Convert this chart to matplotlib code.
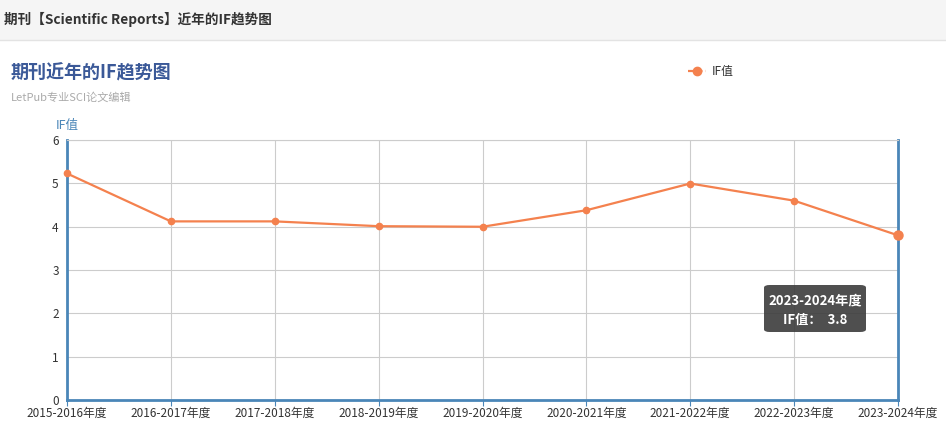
import matplotlib.pyplot as plt
from matplotlib.patches import FancyBboxPatch, Rectangle
from matplotlib.lines import Line2D

plt.rcParams['font.family'] = ['Noto Sans CJK SC', 'DejaVu Sans']

# data
years = ["2015-2016年度", "2016-2017年度", "2017-2018年度", "2018-2019年度",
         "2019-2020年度", "2020-2021年度", "2021-2022年度", "2022-2023年度",
         "2023-2024年度"]
if_values = [5.228, 4.122, 4.122, 4.011, 3.998, 4.379, 4.996, 4.6, 3.8]
y_ticks = [0, 1, 2, 3, 4, 5, 6]

line_color = "#f4814e"
axis_blue = "#4a86b8"

fig = plt.figure(figsize=(9.46, 4.46), dpi=100)

# header band
fig.patches.append(Rectangle((0, 1 - 40 / 446), 1, 40 / 446, transform=fig.transFigure,
                             facecolor="#f5f5f5", edgecolor="none", zorder=0))
fig.add_artist(Line2D([0, 1], [1 - 40 / 446] * 2, color="#e3e3e3", lw=1))
fig.text(4 / 946, 1 - 19 / 446, "期刊【Scientific Reports】近年的IF趋势图",
         fontsize=9.8, fontweight="bold", color="#333333", va="center")

# titles
fig.text(11 / 946, 1 - 73 / 446, "期刊近年的IF趋势图", fontsize=13,
         fontweight="bold", color="#3b5998", va="center")
fig.text(11 / 946, 1 - 97 / 446, "LetPub专业SCI论文编辑", fontsize=8,
         color="#aaaaaa", va="center")

ax = fig.add_axes([67 / 946, 1 - 400 / 446, (898 - 67) / 946, 260 / 446])
x = list(range(len(years)))
ax.plot(x, if_values, color=line_color, lw=1.6, marker="o", markersize=4.5,
        clip_on=False, zorder=3)
ax.plot(x[-1], if_values[-1], "o", color=line_color, markersize=6.5,
        clip_on=False, zorder=4)

ax.set_xlim(0, len(years) - 1)
ax.set_ylim(0, 6)
ax.set_xticks(x)
ax.set_xticklabels(years, fontsize=8.5, color="#333333")
ax.set_yticks(y_ticks)
ax.set_yticklabels([str(v) for v in y_ticks], fontsize=8.5, color="#333333")
ax.grid(True, color="#cccccc", lw=0.8)
ax.set_axisbelow(True)

for side in ["left", "right", "bottom"]:
    ax.spines[side].set_color(axis_blue)
    ax.spines[side].set_linewidth(2)
ax.spines["top"].set_color("#cccccc")
ax.spines["top"].set_linewidth(0.8)
ax.tick_params(axis="x", length=4, color=axis_blue, pad=1)
ax.tick_params(axis="y", length=0, pad=6)

ax.text(0.0, 1.03, "IF值", transform=ax.transAxes, fontsize=9,
        color=axis_blue, ha="center", va="bottom")

# legend
fig.add_artist(Line2D([688 / 946, 706 / 946], [1 - 71 / 446] * 2, color=line_color,
                      lw=1.6, ls=(0, (2.5, 1.5))))
fig.add_artist(Line2D([697 / 946], [1 - 71 / 446], marker="o", color=line_color,
                      markersize=6, lw=0))
fig.text(712 / 946, 1 - 71 / 446, "IF值", fontsize=8.5, color="#333333", va="center")

# tooltip
tip = FancyBboxPatch((764 / 946, 1 - 332 / 446), 102 / 946, 47 / 446,
                     boxstyle="round,pad=0,rounding_size=0.006",
                     transform=fig.transFigure, facecolor="#3c3c3c", alpha=0.9,
                     edgecolor="none", zorder=5)
fig.patches.append(tip)
fig.text(815 / 946, 1 - 300 / 446, "2023-2024年度", fontsize=9.5, color="white",
         ha="center", va="center", fontweight="bold", zorder=6)
fig.text(815 / 946, 1 - 320 / 446, "IF值：  3.8", fontsize=9.5, color="white",
         ha="center", va="center", fontweight="bold", zorder=6)

fig.savefig("out.png", dpi=100)
